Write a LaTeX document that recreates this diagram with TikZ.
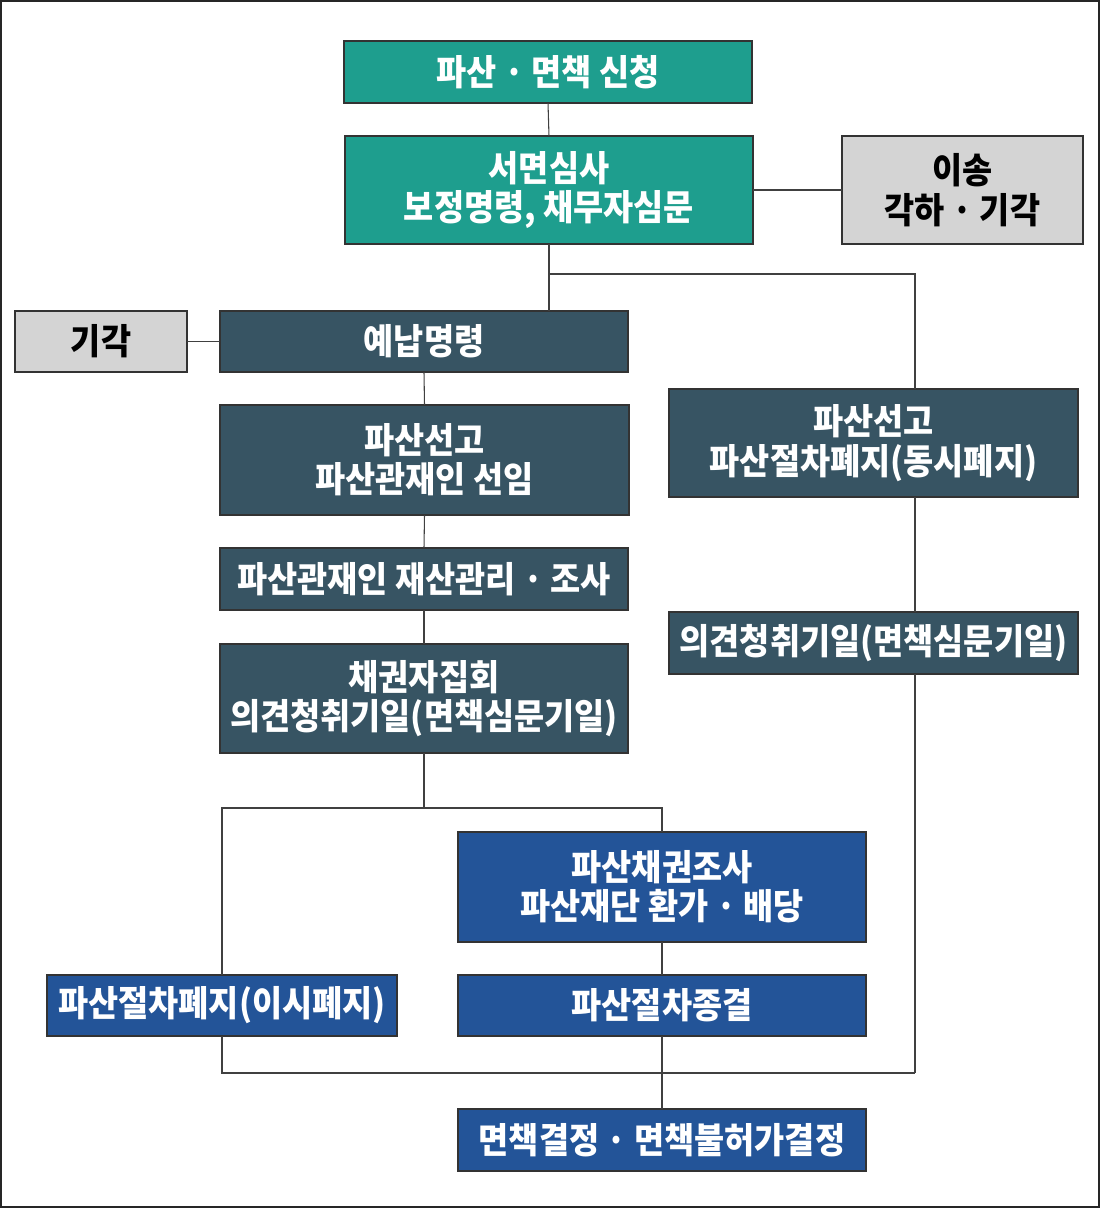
\documentclass[tikz,border=0pt]{standalone}
\usepackage{fontspec}
\setmainfont{Noto Sans CJK KR}[FakeStretch=0.92]
\begin{document}
\begin{tikzpicture}[x=0.75pt,y=-0.75pt,
  basebox/.style={draw=black!80, line width=1pt, inner sep=0pt, outer sep=0pt,
    align=center, font=\fontsize{26.7}{29.5}\selectfont\bfseries},
  sz/.style args={#1/#2}{minimum width=#1*0.75pt, minimum height=#2*0.75pt},
  tealbox/.style={basebox, fill=tealc, text=white},
  slatebox/.style={basebox, fill=slatec, text=white},
  bluebox/.style={basebox, fill=bluec, text=white},
  graybox/.style={basebox, fill=grayc, text=black},
  conn/.style={draw=black!75, line width=0.8pt}
]
\definecolor{tealc}{RGB}{30,158,142}
\definecolor{slatec}{RGB}{55,84,99}
\definecolor{bluec}{RGB}{35,84,152}
\definecolor{grayc}{RGB}{212,212,212}
\useasboundingbox (0,0) rectangle (1100,1208);
\draw[draw=black!85, line width=1.5pt] (1,1) rectangle (1099,1207);

\node[tealbox, sz=408/62] (n1) at (548,72) {파산 · 면책 신청};
\node[tealbox, sz=408/108] (n2) at (549,190) {서면심사\\보정명령, 채무자심문};
\node[graybox, sz=241/108] (n3) at (962.5,190) {이송\\각하 · 기각};
\node[graybox, sz=172/61] (n4) at (101,341.5) {기각};
\node[slatebox, sz=408/61] (n5) at (424,341.5) {예납명령};
\node[slatebox, sz=409/110] (n6) at (424.5,460) {파산선고\\파산관재인 선임};
\node[slatebox, sz=408/62] (n7) at (424,579) {파산관재인 재산관리 · 조사};
\node[slatebox, sz=408/109] (n8) at (424,698.5) {채권자집회\\의견청취기일(면책심문기일)};
\node[slatebox, sz=409/108] (n9) at (873.5,443) {파산선고\\파산절차폐지(동시폐지)};
\node[slatebox, sz=409/62] (n10) at (873.5,643) {의견청취기일(면책심문기일)};
\node[bluebox, sz=408/110] (n11) at (662,887) {파산채권조사\\파산재단 환가 · 배당};
\node[bluebox, sz=350/61] (n12) at (222,1005.5) {파산절차폐지(이시폐지)};
\node[bluebox, sz=408/61] (n13) at (662,1005.5) {파산절차종결};
\node[bluebox, sz=408/62] (n14) at (662,1140) {면책결정 · 면책불허가결정};

\coordinate (b1) at (915,274);
\coordinate (b2) at (915,1073);
\coordinate (b3) at (424,808);

\draw[conn] (n1.south) -- (n2.north);
\draw[conn] (n2.east) -- (n3.west);
\draw[conn] (n2.south) -- (n2.south |- n5.north);
\draw[conn] (n2.south |- b1) -- (b1) -- (b1 |- n9.north);
\draw[conn] (b1 |- n9.south) -- (b1 |- n10.north);
\draw[conn] (b1 |- n10.south) -- (b2);
\draw[conn] (n4.east) -- (n5.west);
\draw[conn] (n5.south) -- (n6.north);
\draw[conn] (n6.south) -- (n7.north);
\draw[conn] (n7.south) -- (n8.north);
\draw[conn] (n8.south) -- (b3);
\draw[conn] (n12.north) -- (n12.north |- b3) -- (n11.north |- b3) -- (n11.north);
\draw[conn] (n11.south) -- (n13.north);
\draw[conn] (n13.south) -- (n14.north);
\draw[conn] (n12.south) -- (n12.south |- b2) -- (b2);
\end{tikzpicture}
\end{document}
